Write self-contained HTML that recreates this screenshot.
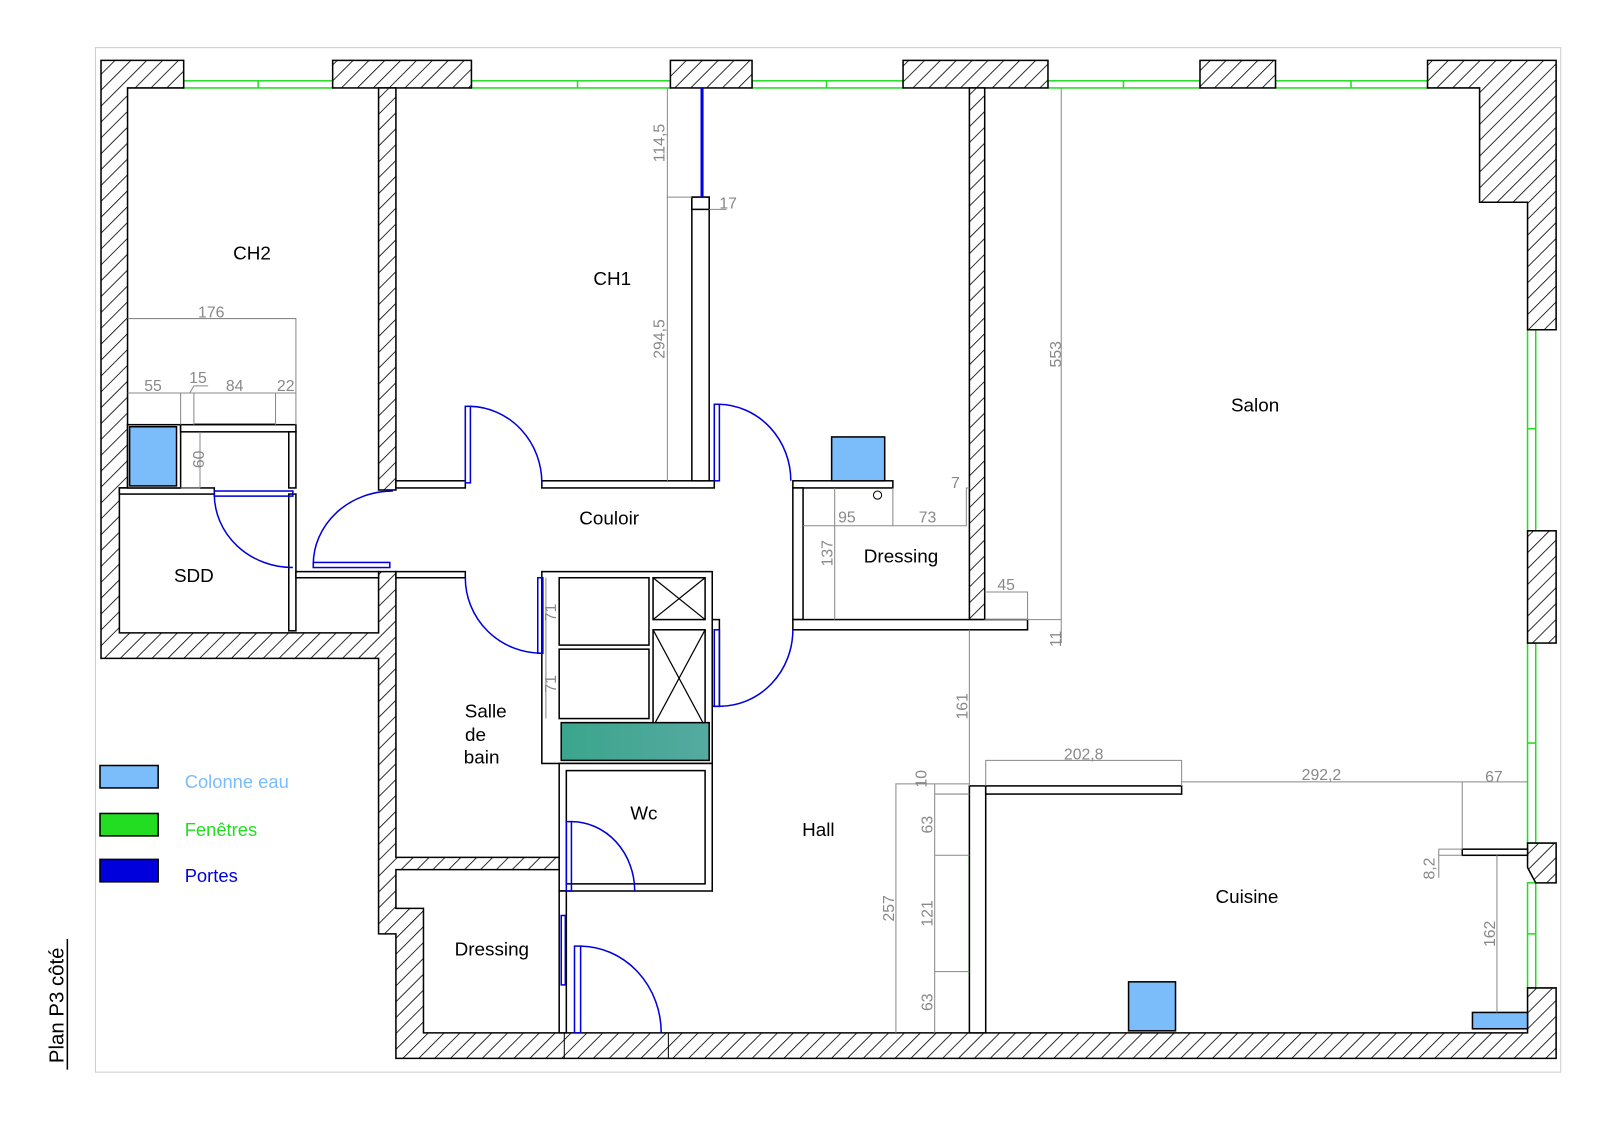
<!DOCTYPE html>
<html><head><meta charset="utf-8"><style>
html,body{margin:0;padding:0;background:#fff;}
svg{display:block;}
text{font-family:"Liberation Sans",sans-serif;}
.lbl{font-size:18.5px;fill:#000;}
.dim{font-size:15.5px;fill:#888;}
</style></head><body>
<svg width="1600" height="1131" viewBox="0 0 1568 1108" xmlns="http://www.w3.org/2000/svg">
<defs>
<pattern id="h" patternUnits="userSpaceOnUse" width="11" height="11" patternTransform="rotate(45)">
<rect width="11" height="11" fill="#fff"/><line x1="0" y1="0" x2="0" y2="11" stroke="#000" stroke-width="1.6"/>
</pattern>
</defs>
<rect x="0" y="0" width="1568" height="1108" fill="#fff"/>
<rect x="93.5" y="46.5" width="1436" height="1004" fill="none" stroke="#ccc" stroke-width="1"/>

<g stroke="#22dd22" stroke-width="1.5" fill="none">
<rect x="180" y="79" width="146" height="7"/><line x1="253" y1="79" x2="253" y2="86"/>
<rect x="462" y="79" width="195" height="7"/><line x1="566" y1="79" x2="566" y2="86"/>
<rect x="737" y="79" width="148" height="7"/><line x1="810" y1="79" x2="810" y2="86"/>
<rect x="1027" y="79" width="149" height="7"/><line x1="1101" y1="79" x2="1101" y2="86"/>
<rect x="1250" y="79" width="149" height="7"/><line x1="1324" y1="79" x2="1324" y2="86"/>
<rect x="1497" y="323" width="8" height="197"/><line x1="1497" y1="420" x2="1505" y2="420"/>
<rect x="1497" y="630" width="8" height="196"/><line x1="1497" y1="728" x2="1505" y2="728"/>
<rect x="1497" y="865" width="8" height="103"/><line x1="1497" y1="915" x2="1505" y2="915"/>
<rect x="950" y="838" width="8" height="114"/><line x1="950" y1="866" x2="958" y2="866"/><line x1="950" y1="895" x2="958" y2="895"/><line x1="950" y1="923" x2="958" y2="923"/>
<line x1="190" y1="416" x2="270" y2="416" stroke-width="3"/>
</g>

<g fill="url(#h)" stroke="#000" stroke-width="1.5">
<polygon points="99,59 180,59 180,86 125,86 125,478 117,478 117,620 371,620 371,560 388,560 388,840 548,840 548,852 388,852 388,890 415,890 415,1012 1497,1012 1497,968 1525,968 1525,1037 388,1037 388,915 371,915 371,645 99,645"/>
<rect x="326" y="59" width="136" height="27"/>
<rect x="657" y="59" width="80" height="27"/>
<rect x="885" y="59" width="142" height="27"/>
<rect x="1176" y="59" width="74" height="27"/>
<polygon points="1399,59 1525,59 1525,323 1497,323 1497,198 1450,198 1450,86 1399,86"/>
<rect x="1497" y="520" width="28" height="110"/>
<polygon points="1497,826 1525,826 1525,865 1505,865 1497,850"/>
<rect x="371" y="86" width="17" height="394"/>
<rect x="950" y="86" width="15" height="521"/>
</g>
<line x1="553" y1="1012" x2="553" y2="1037" stroke="#000"/>
<line x1="655" y1="1012" x2="655" y2="1037" stroke="#000"/>

<g fill="#fff" stroke="#000" stroke-width="1.5">
<rect x="388" y="471" width="68" height="7"/>
<rect x="531" y="471" width="169" height="7"/>
<rect x="388" y="560" width="68" height="6"/>
<rect x="678" y="193" width="17" height="278"/>
<rect x="678" y="193" width="17" height="12"/>
<rect x="777" y="471" width="98" height="7"/>
<rect x="777" y="478" width="10" height="129"/>
<rect x="777" y="607" width="230" height="10"/>
<rect x="117" y="478" width="93" height="6"/>
<rect x="283" y="484" width="7" height="134"/>
<rect x="290" y="560" width="81" height="6"/>
<rect x="125" y="416" width="52" height="62"/>
<rect x="177" y="416" width="113" height="7"/>
<rect x="283" y="423" width="7" height="55"/>
<rect x="531" y="560" width="167" height="188"/>
<rect x="548" y="566" width="88" height="66"/>
<rect x="548" y="636" width="88" height="68"/>
<rect x="640" y="566" width="51" height="41"/>
<rect x="640" y="617" width="51" height="95"/>
<rect x="698" y="607" width="7" height="85"/>
<rect x="548" y="748" width="150" height="125"/>
<rect x="555" y="755" width="136" height="111"/>
<rect x="548" y="873" width="7" height="139"/>
<rect x="950" y="770" width="16" height="242"/>
<rect x="966" y="770" width="192" height="8"/>
<rect x="1433" y="832" width="64" height="6"/>
</g>
<g stroke="#000" stroke-width="1.2">
<line x1="640" y1="566" x2="691" y2="607"/><line x1="691" y1="566" x2="640" y2="607"/>
<line x1="640" y1="617" x2="691" y2="712"/><line x1="691" y1="617" x2="640" y2="712"/>
</g>
<defs><linearGradient id="tg" x1="0" x2="1"><stop offset="0" stop-color="#3aa58c"/><stop offset="1" stop-color="#55aaa0"/></linearGradient></defs>
<rect x="550" y="708" width="145" height="37" fill="url(#tg)" stroke="#000" stroke-width="1.5"/>
<circle cx="860" cy="485" r="4" fill="#fff" stroke="#000"/>

<g fill="#7bbcfb" stroke="#000" stroke-width="1.5">
<rect x="127" y="418" width="46" height="58"/>
<rect x="815" y="428" width="52" height="43"/>
<rect x="1106" y="962" width="46" height="48"/>
<rect x="1443" y="992" width="54" height="16"/>
</g>

<g stroke="#0000dd" stroke-width="1.5" fill="none">
<rect x="210" y="481" width="77" height="5"/><path d="M210,484 A77,72 0 0 0 287,556"/>
<rect x="307" y="551" width="75" height="5"/><path d="M307,553 A78,72 0 0 1 385,481"/>
<rect x="456" y="398" width="5" height="75"/><path d="M461,398 A72,75 0 0 1 531,473"/>
<rect x="700" y="396" width="5" height="75"/><path d="M705,396 A72,75 0 0 1 775,471"/>
<rect x="527" y="566" width="5" height="74"/><path d="M456,566 A75,74 0 0 0 531,640"/>
<rect x="700" y="617" width="5" height="75"/><path d="M705,692 A72,75 0 0 0 777,617"/>
<rect x="555" y="805" width="5" height="68"/><path d="M560,805 A62,68 0 0 1 622,873"/>
<rect x="563" y="927" width="6" height="85"/><path d="M569,927 A80,85 0 0 1 648,1012"/>
<rect x="550" y="897" width="4" height="68"/>
<line x1="688" y1="86" x2="688" y2="193" stroke-width="3"/>
</g>

<g stroke="#888" stroke-width="1" fill="none">
<polyline points="125,312 290,312 290,416"/>
<line x1="125" y1="385" x2="290" y2="385"/>
<line x1="177" y1="385" x2="177" y2="416"/><line x1="190" y1="385" x2="190" y2="416"/><line x1="270" y1="385" x2="270" y2="416"/>
<polyline points="186,385 190,378 204,378"/>
<line x1="196" y1="423" x2="196" y2="478"/><line x1="177" y1="478" x2="196" y2="478"/>
<line x1="654" y1="86" x2="654" y2="471"/><line x1="654" y1="193" x2="678" y2="193"/>
<polyline points="695,205 712,205"/>
<line x1="1040" y1="86" x2="1040" y2="630"/><line x1="965" y1="607" x2="1040" y2="607"/>
<polyline points="965,580 1007,580 1007,607"/>
<polyline points="787,515 947,515 947,478 950,478"/>
<line x1="875" y1="478" x2="875" y2="515"/>
<line x1="818" y1="478" x2="818" y2="607"/>
<line x1="950" y1="617" x2="950" y2="770"/>
<polyline points="966,770 966,745 1158,745 1158,770"/>
<line x1="1158" y1="766" x2="1497" y2="766"/>
<line x1="1433" y1="766" x2="1433" y2="832"/>
<polyline points="1410,860 1410,832 1433,832"/>
<line x1="1410" y1="838" x2="1433" y2="838"/>
<line x1="1467" y1="838" x2="1467" y2="992"/>
<polyline points="950,768 878,768 878,1012"/>
<line x1="916" y1="768" x2="916" y2="1012"/>
<line x1="916" y1="778" x2="950" y2="778"/><line x1="916" y1="838" x2="950" y2="838"/><line x1="916" y1="952" x2="950" y2="952"/>
<line x1="535" y1="566" x2="535" y2="704"/>
</g>
<g class="dim">
<text x="207" y="311" text-anchor="middle">176</text>
<text x="150" y="383" text-anchor="middle">55</text>
<text x="194" y="375" text-anchor="middle">15</text>
<text x="230" y="383" text-anchor="middle">84</text>
<text x="280" y="383" text-anchor="middle">22</text>
<text x="705" y="204">17</text>
<text x="830" y="512" text-anchor="middle">95</text>
<text x="909" y="512" text-anchor="middle">73</text>
<text x="932" y="478">7</text>
<text x="986" y="578" text-anchor="middle">45</text>
<text x="1062" y="744" text-anchor="middle">202,8</text>
<text x="1295" y="764" text-anchor="middle">292,2</text>
<text x="1464" y="766" text-anchor="middle">67</text>
<text transform="translate(651,140) rotate(-90)" text-anchor="middle">114,5</text>
<text transform="translate(651,332) rotate(-90)" text-anchor="middle">294,5</text>
<text transform="translate(1040,347) rotate(-90)" text-anchor="middle">553</text>
<text transform="translate(1040,626) rotate(-90)" text-anchor="middle">11</text>
<text transform="translate(200,450) rotate(-90)" text-anchor="middle">60</text>
<text transform="translate(816,542) rotate(-90)" text-anchor="middle">137</text>
<text transform="translate(545,600) rotate(-90)" text-anchor="middle">71</text>
<text transform="translate(545,670) rotate(-90)" text-anchor="middle">71</text>
<text transform="translate(948,692) rotate(-90)" text-anchor="middle">161</text>
<text transform="translate(908,763) rotate(-90)" text-anchor="middle">10</text>
<text transform="translate(914,808) rotate(-90)" text-anchor="middle">63</text>
<text transform="translate(914,895) rotate(-90)" text-anchor="middle">121</text>
<text transform="translate(914,982) rotate(-90)" text-anchor="middle">63</text>
<text transform="translate(876,890) rotate(-90)" text-anchor="middle">257</text>
<text transform="translate(1406,851) rotate(-90)" text-anchor="middle">8,2</text>
<text transform="translate(1465,915) rotate(-90)" text-anchor="middle">162</text>
</g>

<g class="lbl" text-anchor="middle">
<text x="247" y="254">CH2</text>
<text x="600" y="279">CH1</text>
<text x="1230" y="403">Salon</text>
<text x="597" y="514">Couloir</text>
<text x="883" y="551">Dressing</text>
<text x="190" y="570">SDD</text>
<text x="476" y="703">Salle</text>
<text x="466" y="726">de</text>
<text x="472" y="748">bain</text>
<text x="631" y="803">Wc</text>
<text x="802" y="819">Hall</text>
<text x="1222" y="885">Cuisine</text>
<text x="482" y="936">Dressing</text>
</g>

<rect x="98" y="750" width="57" height="22" fill="#7bbcfb" stroke="#000" stroke-width="1.5"/>
<rect x="98" y="797" width="57" height="22" fill="#22dd22" stroke="#000" stroke-width="1.5"/>
<rect x="98" y="842" width="57" height="22" fill="#0000dd" stroke="#000" stroke-width="1.5"/>
<text x="181" y="772" style="font-size:18px;fill:#7bbcfb">Colonne eau</text>
<text x="181" y="819" style="font-size:18px;fill:#22dd22">Fenêtres</text>
<text x="181" y="864" style="font-size:18px;fill:#0000dd">Portes</text>

<text transform="translate(62,985) rotate(-90)" text-anchor="middle" style="font-size:20px;fill:#000">Plan P3 côté</text>
<line x1="66" y1="920" x2="66" y2="1048" stroke="#000" stroke-width="1.5"/>
</svg>
</body></html>
